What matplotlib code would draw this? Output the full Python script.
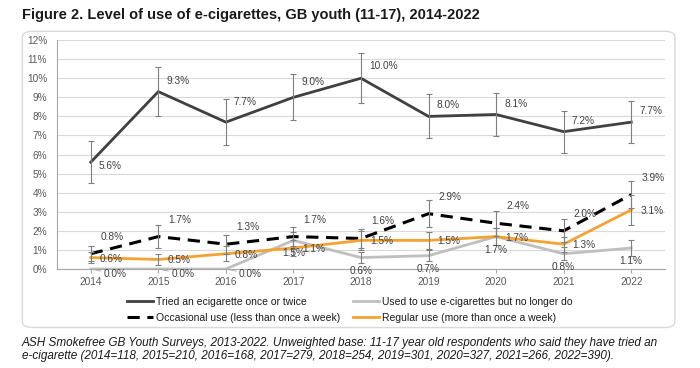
#!/usr/bin/env python3
"""Level of use of e-cigarettes, GB youth (11-17), 2014-2022."""

import matplotlib
matplotlib.use('Agg')
import matplotlib.pyplot as plt
from matplotlib.patches import FancyBboxPatch
from matplotlib.ticker import FuncFormatter

plt.rcParams['font.family'] = ['Liberation Sans', 'DejaVu Sans']

# Survey years
years = ['2014', '2015', '2016', '2017', '2018', '2019', '2020', '2021', '2022']

# Percent of 11-17 year olds who have tried an e-cigarette
tried = [5.6, 9.3, 7.7, 9.0, 10.0, 8.0, 8.1, 7.2, 7.7]
used_to = [0.0, 0.0, 0.0, 1.5, 0.6, 0.7, 1.7, 0.8, 1.1]
occasional = [0.8, 1.7, 1.3, 1.7, 1.6, 2.9, 2.4, 2.0, 3.9]
regular = [0.6, 0.5, 0.8, 1.1, 1.5, 1.5, 1.7, 1.3, 3.1]

# Error bar half-widths (percentage points)
tried_err = [1.1, 1.3, 1.2, 1.2, 1.3, 1.15, 1.15, 1.1, 1.1]
used_to_err = [0.0, 0.0, 0.0, 0.45, 0.3, 0.3, 0.45, 0.35, 0.4]
occasional_err = [0.4, 0.6, 0.5, 0.5, 0.5, 0.7, 0.65, 0.6, 0.7]
regular_err = [0.3, 0.3, 0.4, 0.4, 0.5, 0.45, 0.45, 0.4, 0.8]

labels = ['Tried an ecigarette once or twice',
          'Used to use e-cigarettes but no longer do',
          'Occasional use (less than once a week)',
          'Regular use (more than once a week)']

# vertical nudge (pixels) of the "tried" data labels, as placed in the original
tried_label_dy = [-4, 11, 20, 15, 12, 11, 11, 11, 11]

DARK = '#404040'
LIGHT = '#bfbfbf'
ORANGE = '#F4A232'
ERR = '#7f7f7f'

fig = plt.figure(figsize=(7, 3.68), dpi=100)

# rounded frame around the chart
frame = FancyBboxPatch((0.032, 0.11), 0.932, 0.805,
                       boxstyle='round,pad=0,rounding_size=0.015',
                       transform=fig.transFigure, fill=False,
                       edgecolor='#d9d9d9', linewidth=1.0)
fig.add_artist(frame)

fig.text(0.031, 0.958, 'Figure 2. Level of use of e-cigarettes, GB youth (11-17), 2014-2022',
         fontsize=10.5, fontweight='bold', ha='left', va='center', color='#1a1a1a')

ax = fig.add_axes([0.0814, 0.269, 0.8686, 0.622])
x = list(range(len(years)))


def draw_errors(vals, errs):
    xs = [i for i, e in zip(x, errs) if e > 0]
    ys = [v for v, e in zip(vals, errs) if e > 0]
    es = [e for e in errs if e > 0]
    ax.errorbar(xs, ys, yerr=es, fmt='none', ecolor=ERR, elinewidth=0.8,
                capsize=2.5, capthick=0.8, zorder=4)


l_tried, = ax.plot(x, tried, color=DARK, lw=2, zorder=3)
l_used, = ax.plot(x, used_to, color=LIGHT, lw=2, zorder=3)
l_occ, = ax.plot(x, occasional, color='black', lw=2.2, ls=(0, (4, 2.5)), zorder=3)
l_reg, = ax.plot(x, regular, color=ORANGE, lw=2, zorder=3)

for vals, errs in [(tried, tried_err), (used_to, used_to_err),
                   (occasional, occasional_err), (regular, regular_err)]:
    draw_errors(vals, errs)

lab_kw = dict(textcoords='offset pixels', fontsize=7.3, color=DARK, zorder=5)

for i, v in enumerate(tried):
    ax.annotate(f'{v:.1f}%', (i, v), xytext=(8, tried_label_dy[i]), ha='left', va='center', **lab_kw)
for i, v in enumerate(occasional):
    ax.annotate(f'{v:.1f}%', (i, v), xytext=(10, 17), ha='left', va='center', **lab_kw)
for i, v in enumerate(regular):
    ax.annotate(f'{v:.1f}%', (i, v), xytext=(9, -1), ha='left', va='center', **lab_kw)
for i, v in enumerate(used_to):
    if v == 0:
        ax.annotate(f'{v:.1f}%', (i, v), xytext=(13, -5), ha='left', va='center',
                    arrowprops=dict(arrowstyle='-', color='#a6a6a6', lw=0.6,
                                    shrinkA=0, shrinkB=0), **lab_kw)
    else:
        ax.annotate(f'{v:.1f}%', (i, v), xytext=(0, -13), ha='center', va='center', **lab_kw)

ax.set_xlim(-0.5, len(years) - 0.5)
ax.set_ylim(0, 12)
ax.set_yticks(range(0, 13))
ax.yaxis.set_major_formatter(FuncFormatter(lambda v, p: f'{int(v)}%'))
ax.set_xticks(x)
ax.set_xticklabels(years)
ax.tick_params(axis='y', labelsize=7.3, colors='#595959', length=0, pad=7)
ax.tick_params(axis='x', labelsize=7.3, colors='#595959', length=3, color='#a6a6a6', pad=3)
ax.grid(axis='y', color='#d9d9d9', lw=0.8)
ax.set_axisbelow(True)
for side in ['top', 'right']:
    ax.spines[side].set_visible(False)
for side in ['left', 'bottom']:
    ax.spines[side].set_color('#a6a6a6')
    ax.spines[side].set_linewidth(0.8)

fig.legend([l_tried, l_occ, l_used, l_reg],
           [labels[0], labels[2], labels[1], labels[3]],
           ncol=2, loc='center', bbox_to_anchor=(0.5, 0.158), frameon=False,
           fontsize=7.5, handlelength=2.5, handletextpad=0.3,
           columnspacing=1.2, labelspacing=0.6, labelcolor='#1a1a1a')

fig.text(0.031, 0.068,
         'ASH Smokefree GB Youth Surveys, 2013-2022. Unweighted base: 11-17 year old '
         'respondents who said they have tried an',
         fontsize=8.5, style='italic', ha='left', va='center', color='#1a1a1a')
fig.text(0.031, 0.033,
         'e-cigarette (2014=118, 2015=210, 2016=168, 2017=279, 2018=254, 2019=301, '
         '2020=327, 2021=266, 2022=390).',
         fontsize=8.5, style='italic', ha='left', va='center', color='#1a1a1a')

fig.savefig('out.png', dpi=100)
